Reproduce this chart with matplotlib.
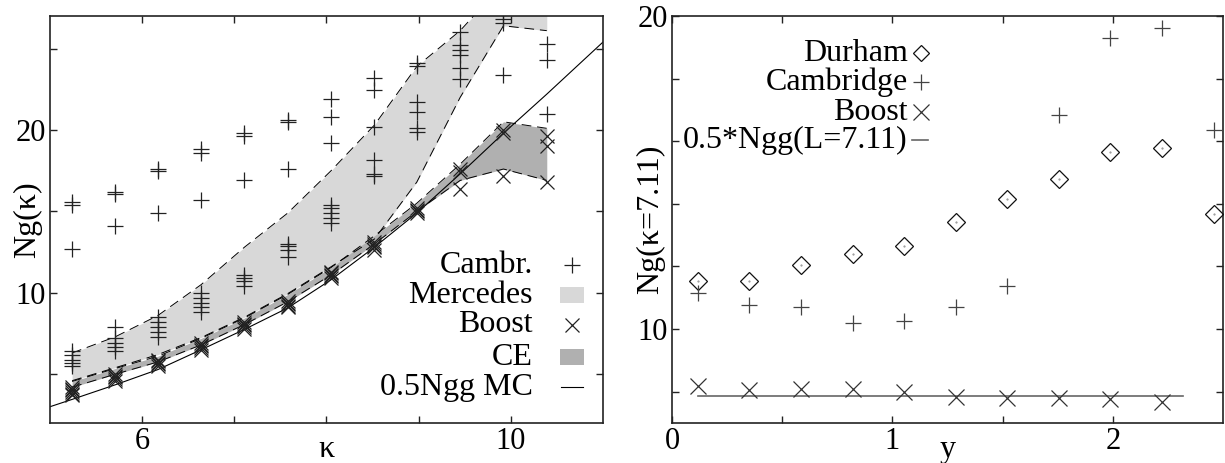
import numpy as np
import matplotlib
matplotlib.use("Agg")
from matplotlib import pyplot as plt
from matplotlib.patches import Rectangle

plt.rcParams['font.family'] = ['Liberation Serif', 'DejaVu Serif']
plt.rcParams['font.size'] = 22

#------------------------------------------------------------
# left panel: Ng(kappa)
kappa = [5.24, 5.71, 6.17, 6.64, 7.11, 7.58, 8.05, 8.52, 8.98, 9.45, 9.92, 10.39]

cambr = [
    [15.6, 15.4, 12.7, 6.4, 6.2, 5.9, 5.7, 5.5],
    [16.2, 16.05, 14.1, 7.9, 7.2, 6.9, 6.65, 6.4],
    [17.6, 17.5, 14.9, 8.5, 8.2, 7.9, 7.6, 7.3],
    [18.8, 18.6, 15.7, 10.0, 9.7, 9.4, 9.1, 8.8],
    [19.8, 19.6, 16.9, 11.1, 10.9, 10.7, 10.4],
    [20.6, 20.5, 17.6, 13.0, 12.9, 12.65, 12.2],
    [21.9, 20.8, 19.2, 15.4, 15.2, 14.9, 14.6, 14.3],
    [23.2, 22.45, 20.2, 18.15, 17.3, 17.2],
    [24.1, 23.9, 21.7, 21.1, 20.1, 19.9],
    [26.0, 25.2, 24.9, 24.6, 23.8, 23.1],
    [26.8, 26.6, 23.4],
    [25.3, 24.3, 21.0],
]
boost = [
    [4.2, 4.1, 4.0, 3.9, 3.8, 3.7],
    [5.0, 4.9, 4.8, 4.7, 4.6],
    [5.9, 5.8, 5.7, 5.6, 5.5],
    [6.9, 6.8, 6.7, 6.6, 6.5],
    [8.2, 8.1, 8.0, 7.9, 7.8],
    [9.5, 9.4, 9.3, 9.2, 9.1],
    [11.3, 11.2, 11.1, 11.0, 10.9],
    [13.1, 13.0, 12.9, 12.8, 12.6],
    [15.2, 15.1, 15.0, 14.9],
    [17.6, 17.4, 16.4],
    [20.0, 19.8, 17.2],
    [19.6, 19.0, 16.8],
]
merc_lo = [4.6, 5.4, 6.2, 7.25, 8.5, 9.95, 11.6, 13.3, 16.8, 22.0, 26.4, 26.1]
merc_hi = [6.3, 7.3, 8.6, 10.5, 12.8, 14.9, 17.5, 20.3, 23.9, 26.1, 29.0, 29.0]
ce_lo = [4.2, 5.0, 5.75, 6.8, 8.05, 9.45, 11.1, 13.0, 15.0, 16.9, 17.6, 16.9]
ce_hi = [4.55, 5.35, 6.1, 7.2, 8.45, 9.9, 11.55, 13.5, 15.5, 17.9, 20.5, 20.1]

kappa_mc = [5.0, 5.24, 5.71, 6.17, 6.64, 7.11, 7.58, 8.05, 8.52, 8.98, 9.45, 9.92, 10.39, 11.0]
ngg_mc = [3.0, 3.45, 4.35, 5.28, 6.5, 7.75, 9.07, 10.8, 12.8, 14.9, 17.3, 19.8, 22.2, 25.4]

#------------------------------------------------------------
# right panel: Ng(kappa=7.11) vs y
ycut = [0.117, 0.351, 0.585, 0.819, 1.053, 1.287, 1.521, 1.755, 1.989, 2.223, 2.457]
durham = [11.52, 11.54, 12.04, 12.41, 12.66, 13.43, 14.17, 14.79, 15.66, 15.77, 13.67]
cambridge = [11.14, 10.77, 10.69, 10.21, 10.27, 10.71, 11.38, 16.83, 19.29, 19.63, 16.35]
boost_y = [8.19, 8.05, 8.09, 8.09, 7.98, 7.82, 7.80, 7.79, 7.77, 7.66]
ngg_ycut = [0.117, 2.32]
ngg_half = [7.85, 7.85]

fig = plt.figure(figsize=(12.25, 4.63), dpi=100)
ax1 = fig.add_axes([50/1225, 40/463, 553/1225, 407/463])
ax2 = fig.add_axes([672/1225, 40/463, 551/1225, 407/463])

light = '#d8d8d8'
dark = '#b0b0b0'
dash = (0, (10, 6))

# bands
ax1.fill_between(kappa, merc_lo, merc_hi, color=light, lw=0, zorder=1)
ax1.plot(kappa, merc_lo, color='k', lw=0.7, ls=dash, zorder=2)
ax1.plot(kappa, merc_hi, color='k', lw=0.7, ls=dash, zorder=2)
ax1.fill_between(kappa, ce_lo, ce_hi, color=dark, lw=0, zorder=1.5)
ax1.plot(kappa, ce_lo, color='k', lw=0.7, ls=dash, zorder=2)
ax1.plot(kappa, ce_hi, color='k', lw=0.7, ls=dash, zorder=2)
ax1.plot(kappa_mc, ngg_mc, color='k', lw=0.8, zorder=2)

kc = np.concatenate([[k] * len(v) for k, v in zip(kappa, cambr)])
ax1.plot(kc, np.concatenate(cambr), ls='none', marker='+', ms=11, mew=0.9,
         color='#222222', zorder=3)
kb = np.concatenate([[k] * len(v) for k, v in zip(kappa, boost)])
ax1.plot(kb, np.concatenate(boost), ls='none', marker='x', ms=10, mew=0.9,
         color='#222222', zorder=3)

ax1.set_xlim(5, 11)
ax1.set_ylim(2, 27)
ax1.set_xticks([6, 7, 8, 9, 10], labels=['6', '', '', '', '10'])
ax1.set_yticks([5, 10, 15, 20, 25], labels=['', '10', '', '20', ''])
ax1.set_xlabel('κ', fontsize=23)
ax1.set_ylabel('Ng(κ)', fontsize=23)
ax1.xaxis.set_label_coords(0.5, -0.03)
ax1.yaxis.set_label_coords(-0.015, 0.5)

# left legend (gnuplot style: text right aligned, key on the right)
labs1 = ['Cambr.', 'Mercedes', 'Boost', 'CE', '0.5Ngg MC']
rows1 = [0.388, 0.314, 0.241, 0.162, 0.088]
tx, kx = 0.873, 0.944
for lab, yy in zip(labs1, rows1):
    ax1.text(tx, yy, lab, transform=ax1.transAxes, ha='right', va='center', fontsize=23)
ax1.plot([kx], [rows1[0]], transform=ax1.transAxes, marker='+', ms=11, mew=0.9, color='#222222')
ax1.plot([kx], [rows1[2]], transform=ax1.transAxes, marker='x', ms=10, mew=0.9, color='#222222')
for yy, c in [(rows1[1], light), (rows1[3], dark)]:
    ax1.add_patch(Rectangle((kx - 0.021, yy - 0.019), 0.042, 0.038, transform=ax1.transAxes,
                            color=c, lw=0))
ax1.plot([kx - 0.02, kx + 0.02], [rows1[4]] * 2, transform=ax1.transAxes, color='k', lw=0.8)

# right panel
ax2.plot(ngg_ycut, ngg_half, color='#666666', lw=1.2, zorder=2)
ax2.plot(ycut, durham, ls='none', marker='D', ms=9, mfc='none', mew=0.9, color='#111111',
         zorder=3, clip_on=False)
ax2.plot(ycut, durham, ls='none', marker='.', ms=1, color='#888888', zorder=3)
ax2.plot(ycut, cambridge, ls='none', marker='+', ms=12, mew=0.9, color='#444444', zorder=3,
         clip_on=False)
ax2.plot(ycut[:len(boost_y)], boost_y, ls='none', marker='x', ms=11, mew=0.9, color='#333333',
         zorder=3)

ax2.set_xlim(0, 2.5)
ax2.set_ylim(7, 20)
ax2.set_xticks([0, 0.5, 1, 1.5, 2], labels=['0', '', '1', '', '2'])
ax2.set_yticks([8, 10, 12, 14, 16, 18, 20], labels=['', '10', '', '', '', '', '20'])
ax2.set_xlabel('y', fontsize=23)
ax2.set_ylabel('Ng(κ=7.11)', fontsize=23)
ax2.xaxis.set_label_coords(0.5, -0.03)
ax2.yaxis.set_label_coords(-0.013, 0.5)

labs2 = ['Durham', 'Cambridge', 'Boost', '0.5*Ngg(L=7.11)']
rows2 = [0.909, 0.838, 0.764, 0.695]
tx2, kx2 = 0.428, 0.452
for lab, yy in zip(labs2, rows2):
    ax2.text(tx2, yy, lab, transform=ax2.transAxes, ha='right', va='center', fontsize=23)
ax2.plot([kx2], [rows2[0]], transform=ax2.transAxes, marker='D', ms=8, mfc='none', mew=0.9,
         color='#111111')
ax2.plot([kx2], [rows2[1]], transform=ax2.transAxes, marker='+', ms=12, mew=0.9, color='#444444')
ax2.plot([kx2], [rows2[2]], transform=ax2.transAxes, marker='x', ms=11, mew=0.9, color='#333333')
ax2.plot([kx2 - 0.017, kx2 + 0.012], [rows2[3]] * 2, transform=ax2.transAxes,
         color='#666666', lw=1.2)

for ax in (ax1, ax2):
    ax.tick_params(direction='in', top=True, right=True, length=5, width=1,
                   labelsize=22, pad=3, color='#222222')
    for s in ax.spines.values():
        s.set_linewidth(1.2)
        s.set_color('#222222')

fig.savefig('out.png', dpi=100)
